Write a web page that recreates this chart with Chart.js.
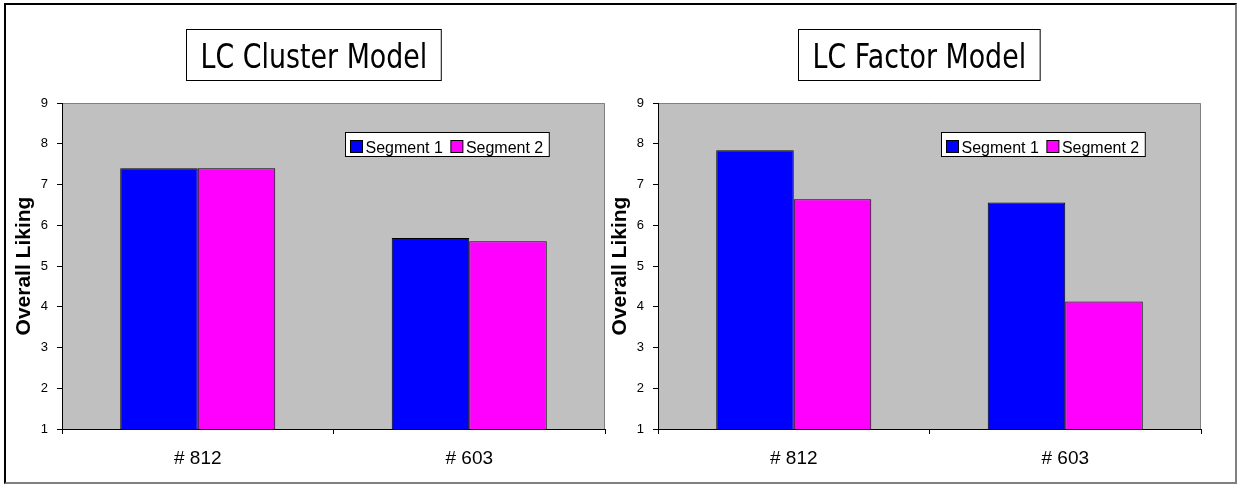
<!DOCTYPE html>
<html>
<head>
<meta charset="utf-8">
<script src="https://cdn.jsdelivr.net/npm/chart.js@4.4.1/dist/chart.umd.min.js"></script>
<style>
  html, body { margin: 0; padding: 0; background: #fff; }
  #wrap { position: relative; width: 1241px; height: 485px; overflow: hidden; background: #fff; }
  #frame { position: absolute; left: 4px; top: 3px; width: 1229px; height: 477px;
           border-top: 2px solid #000; border-left: 2px solid #000;
           border-right: 2px solid #808080; border-bottom: 2px solid #808080; }
  canvas { position: absolute; top: 0; }
  #c1 { left: 8px; }
  #c2 { left: 604px; }
</style>
</head>
<body>
<div id="wrap">
  <div id="frame"></div>
  <canvas id="c1" width="600" height="485"></canvas>
  <canvas id="c2" width="600" height="485"></canvas>
</div>
<script>
// ---- data ----
const categories = ['# 812', '# 603'];
const seriesLabels = ['Segment 1', 'Segment 2'];
const clusterSegment1 = [7.40, 5.69];
const clusterSegment2 = [7.40, 5.61];
const factorSegment1 = [7.84, 6.56];
const factorSegment2 = [6.64, 4.13];
const chartTitles = ['LC Cluster Model', 'LC Factor Model'];
const yAxisTitle = 'Overall Liking';
const yMin = 1, yMax = 9, yStep = 1;

const seriesColors = ['#0000FF', '#FF00FF'];

// plot background + border
const plotBg = {
  id: 'plotBg',
  beforeDraw(chart) {
    const a = chart.chartArea, ctx = chart.ctx;
    ctx.save();
    ctx.fillStyle = '#C0C0C0';
    ctx.fillRect(a.left, a.top, a.right - a.left, a.bottom - a.top);
    ctx.strokeStyle = '#808080';
    ctx.lineWidth = 1;
    ctx.beginPath();
    ctx.moveTo(a.left, a.top + 0.5);
    ctx.lineTo(a.right - 0.5, a.top + 0.5);
    ctx.lineTo(a.right - 0.5, a.bottom);
    ctx.stroke();
    ctx.restore();
  }
};

// boxed title
const boxTitle = {
  id: 'boxTitle',
  afterDraw(chart, args, opts) {
    const ctx = chart.ctx;
    ctx.save();
    ctx.font = '34px "DejaVu Sans"';
    const sx = 0.79;
    const w = ctx.measureText(opts.text).width * sx;
    const bw = w + 28;
    const left = Math.round(opts.centerX - bw / 2) + 0.5;
    const top = 29.5, bh = 51;
    ctx.fillStyle = '#fff';
    ctx.fillRect(left, top, bw, bh);
    ctx.strokeStyle = '#000';
    ctx.lineWidth = 1;
    ctx.strokeRect(left, top, bw, bh);
    ctx.fillStyle = '#000';
    ctx.textBaseline = 'alphabetic';
    ctx.textAlign = 'left';
    ctx.translate(left + 14, 67.5);
    ctx.scale(sx, 1);
    ctx.fillText(opts.text, 0, 0);
    ctx.restore();
  }
};

// boxed legend inside the plot
const boxLegend = {
  id: 'boxLegend',
  afterDatasetsDraw(chart) {
    const ctx = chart.ctx, a = chart.chartArea;
    const ds = chart.data.datasets;
    ctx.save();
    ctx.font = '16px "Liberation Sans", Arial, sans-serif';
    let total = 5;
    const widths = ds.map(d => ctx.measureText(d.label).width);
    widths.forEach((w, i) => { total += 15 + w + (i < ds.length - 1 ? 8 : 6); });
    const right = a.right - 56;
    const left = Math.round(right - total) + 0.5;
    const top = Math.round(a.top + 29) + 0.5;
    const h = 24;
    ctx.fillStyle = '#fff';
    ctx.fillRect(left, top, total, h);
    ctx.strokeStyle = '#000';
    ctx.lineWidth = 1;
    ctx.strokeRect(left, top, total, h);
    let x = left + 5;
    ds.forEach((d, i) => {
      ctx.fillStyle = d.backgroundColor;
      ctx.fillRect(x, top + 8, 12, 12);
      ctx.strokeStyle = '#000';
      ctx.strokeRect(x, top + 8, 12, 12);
      ctx.fillStyle = '#000';
      ctx.textBaseline = 'alphabetic';
      ctx.fillText(d.label, x + 15, top + 20.5);
      x += 15 + widths[i] + 8;
    });
    ctx.restore();
  }
};

function makeChart(id, s1, s2, title, centerX) {
  return new Chart(document.getElementById(id), {
    type: 'bar',
    data: {
      labels: categories,
      datasets: [
        { label: seriesLabels[0], data: s1, backgroundColor: seriesColors[0], borderColor: '#000', borderWidth: 1 },
        { label: seriesLabels[1], data: s2, backgroundColor: seriesColors[1], borderColor: '#000', borderWidth: 1 }
      ]
    },
    options: {
      responsive: false,
      animation: false,
      devicePixelRatio: 1,
      layout: { padding: { left: 4, right: 3, top: 103, bottom: 6 } },
      datasets: { bar: { categoryPercentage: 0.571, barPercentage: 1.0 } },
      plugins: {
        legend: { display: false },
        title: { display: false },
        tooltip: { enabled: false },
        boxTitle: { text: title, centerX: centerX }
      },
      scales: {
        x: {
          afterFit(scale) { scale.height = 50; },
          grid: { drawOnChartArea: false, drawTicks: true, tickLength: 5, color: '#000', offset: true },
          border: { display: true, color: '#000', width: 1 },
          ticks: { color: '#000', padding: 13, font: { family: '"Liberation Sans", Arial, sans-serif', size: 19 } }
        },
        y: {
          min: yMin, max: yMax,
          afterFit(scale) { scale.width = 50; },
          grid: { drawOnChartArea: false, drawTicks: true, tickLength: 5, color: '#000' },
          border: { display: true, color: '#000', width: 1 },
          ticks: { stepSize: yStep, color: '#000', padding: 9, font: { family: '"Liberation Sans", Arial, sans-serif', size: 13 } },
          title: { display: true, text: yAxisTitle, color: '#000', padding: { top: 0, bottom: 0 },
                   font: { family: '"Liberation Sans", Arial, sans-serif', size: 21, weight: 'bold' } }
        }
      }
    },
    plugins: [plotBg, boxLegend, boxTitle]
  });
}

makeChart('c1', clusterSegment1, clusterSegment2, chartTitles[0], 305.5);
makeChart('c2', factorSegment1, factorSegment2, chartTitles[1], 315);
</script>
</body>
</html>
